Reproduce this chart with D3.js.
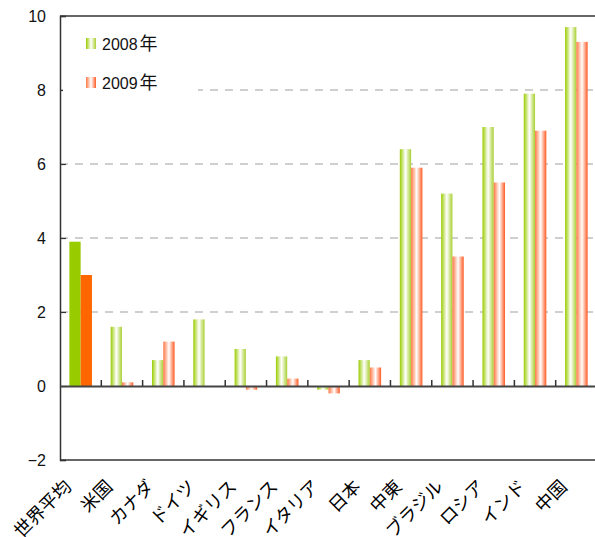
<!DOCTYPE html>
<html><head><meta charset="utf-8">
<script src="https://cdn.jsdelivr.net/npm/d3@7"></script>
<style>body{margin:0;background:#fff}svg{display:block}</style>
</head><body>
<script>
const categories = ["世界平均","米国","カナダ","ドイツ","イギリス","フランス","イタリア","日本","中東","ブラジル","ロシア","インド","中国"];
const seriesNames = ["2008年","2009年"];
const values2008 = [3.9,1.6,0.7,1.8,1.0,0.8,-0.1,0.7,6.4,5.2,7.0,7.9,9.7];
const values2009 = [3.0,0.1,1.2,0.0,-0.1,0.2,-0.2,0.5,5.9,3.5,5.5,6.9,9.3];
const yTicks = [-2,0,2,4,6,8,10];

const W = 595, H = 537;
const mLeft = 60, mRight = 597, mTop = 16, mBottom = 460;
const svg = d3.select("body").append("svg").attr("width", W).attr("height", H);
const defs = svg.append("defs");
function grad(id, c, c2){
  const g = defs.append("linearGradient").attr("id", id).attr("x1","0").attr("x2","1").attr("y1","0").attr("y2","0");
  g.append("stop").attr("offset","0%").attr("stop-color", c);
  g.append("stop").attr("offset","50%").attr("stop-color", "#ffffff");
  g.append("stop").attr("offset","100%").attr("stop-color", c2);
}
grad("gG", "#99cc00", "#a8d030");
grad("gO", "#ff7744", "#ff5a22");

const x = d3.scaleBand().domain(categories).range([mLeft, mRight]).padding(0);
const xi = d3.scaleBand().domain(seriesNames).range([0, x.bandwidth()]).paddingInner(0).paddingOuter(0.83);
const y = d3.scaleLinear().domain([-2, 10]).range([mBottom, mTop]);

// gridlines
svg.append("g").selectAll("line").data([2,4,6,8]).join("line")
  .attr("x1", mLeft).attr("x2", W).attr("y1", d=>y(d)).attr("y2", d=>y(d))
  .attr("stroke", "#c0c0c0").attr("stroke-width", 1.3).attr("stroke-dasharray", "8,7");

// bars
const data = categories.map((c,i)=>({c, i, vals:[values2008[i], values2009[i]]}));
const gb = svg.append("g");
data.forEach(d=>{
  d.vals.forEach((v,j)=>{
    const s = seriesNames[j];
    let fill;
    if (d.i === 0) fill = j===0 ? "#99cc00" : "#ff6600";
    else fill = j===0 ? "url(#gG)" : "url(#gO)";
    gb.append("rect")
      .attr("x", x(d.c) + xi(s))
      .attr("width", xi.bandwidth())
      .attr("y", Math.min(y(v), y(0)))
      .attr("height", Math.abs(y(v) - y(0)))
      .attr("fill", fill);
  });
});

// frame
svg.append("line").attr("x1", mLeft).attr("x2", W).attr("y1", mTop).attr("y2", mTop).attr("stroke", "#333").attr("stroke-width", 1.5);
svg.append("line").attr("x1", mLeft).attr("x2", W).attr("y1", mBottom).attr("y2", mBottom).attr("stroke", "#333").attr("stroke-width", 1.5);

// y axis
const yAxis = d3.axisRight(y).tickValues(yTicks).tickSize(6).tickFormat("");
const ya = svg.append("g").attr("transform", `translate(${mLeft},0)`).call(yAxis);
ya.select(".domain").attr("stroke", "#333").attr("stroke-width", 1.5);
ya.selectAll(".tick line").attr("stroke", "#333").attr("stroke-width", 1.2);
svg.append("g").selectAll("text").data(yTicks).join("text")
  .attr("x", 46).attr("y", d=>y(d)).attr("dy", "0.36em").attr("text-anchor", "end")
  .attr("font-family", "'Liberation Sans', Arial, sans-serif").attr("font-size", 16).attr("fill", "#111")
  .text(d => d < 0 ? "\u2212" + Math.abs(d) : d);

// x axis at zero
const xAxis = d3.axisTop(x).tickSize(0).tickFormat("");
const xa = svg.append("g").attr("transform", `translate(0,${y(0)})`).call(xAxis);
xa.select(".domain").attr("stroke", "#444").attr("stroke-width", 2);
const bounds = categories.slice(1).map(c => x(c));
svg.append("g").selectAll("line").data(bounds).join("line")
  .attr("x1", d=>d).attr("x2", d=>d).attr("y1", y(0)-6).attr("y2", y(0))
  .attr("stroke", "#333").attr("stroke-width", 1.5);

// category labels
svg.append("g").selectAll("text").data(categories).join("text")
  .attr("transform", d => `translate(${x(d) + x.bandwidth()/2 - 19},${477}) rotate(-45)`)
  .attr("text-anchor", "end").attr("dy", "0.85em")
  .attr("font-family", "'Noto Sans CJK JP', sans-serif").attr("font-size", 18).attr("fill", "#000")
  .text(d => d);

// legend
const lg = svg.append("g");
lg.append("rect").attr("x", 63).attr("y", 18).attr("width", 135).attr("height", 80).attr("fill", "#fff");
const legItems = [{n: seriesNames[0], f: "url(#gG)", y: 38}, {n: seriesNames[1], f: "url(#gO)", y: 77}];
legItems.forEach(it => {
  lg.append("rect").attr("x", 86).attr("y", it.y).attr("width", 10).attr("height", 11).attr("fill", it.f);
  const t = lg.append("text").attr("x", 102).attr("y", it.y + 12)
    .attr("font-family", "'Liberation Sans', sans-serif").attr("font-size", 16).attr("fill", "#111");
  t.append("tspan").text(it.n.slice(0, -1));
  t.append("tspan").attr("dx", 2).attr("font-family", "'Noto Sans CJK JP', sans-serif").attr("font-size", 18).text(it.n.slice(-1));
});
</script>
</body></html>
